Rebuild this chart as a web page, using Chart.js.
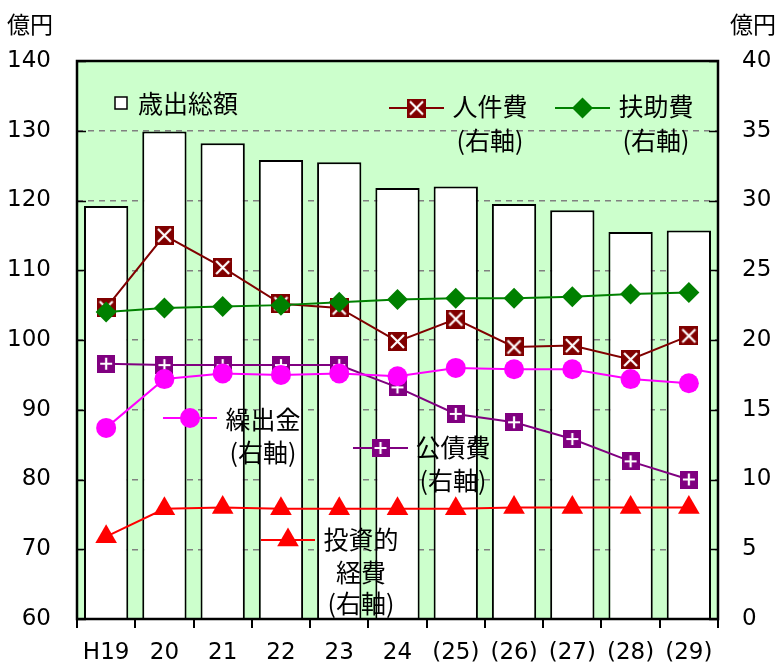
<!DOCTYPE html>
<html lang="ja">
<head>
<meta charset="utf-8">
<script src="https://cdn.jsdelivr.net/npm/chart.js@4/dist/chart.umd.min.js"></script>
<style>
  html, body { margin: 0; padding: 0; background: #ffffff; }
  #wrap { width: 782px; height: 668px; }
</style>
</head>
<body>
<div id="wrap"><canvas id="c" width="782" height="668"></canvas></div>
<script>
// 年度
const categories = ['H19', '20', '21', '22', '23', '24', '(25)', '(26)', '(27)', '(28)', '(29)'];
// 歳出総額（億円・左軸）
const totalExpenditure = [119.2, 129.9, 128.2, 125.8, 125.5, 121.8, 122.0, 119.5, 118.6, 115.5, 115.7];
// 人件費（億円・右軸）
const personnel = [22.3, 27.5, 25.2, 22.6, 22.3, 19.9, 21.5, 19.5, 19.6, 18.6, 20.3];
// 扶助費（億円・右軸）
const assistance = [22.0, 22.3, 22.4, 22.5, 22.7, 22.9, 23.0, 23.0, 23.1, 23.3, 23.4];
// 繰出金（億円・右軸）
const transfers = [13.7, 17.2, 17.6, 17.5, 17.6, 17.4, 18.0, 17.9, 17.9, 17.2, 16.9];
// 公債費（億円・右軸）
const debtService = [18.3, 18.2, 18.2, 18.2, 18.2, 16.6, 14.7, 14.1, 12.9, 11.3, 10.0];
// 投資的経費（億円・右軸）
const investment = [5.9, 7.9, 8.0, 7.9, 7.9, 7.9, 7.9, 8.0, 8.0, 8.0, 8.0];
// 軸目盛
const leftTicks = [60, 70, 80, 90, 100, 110, 120, 130, 140];
const rightTicks = [0, 5, 10, 15, 20, 25, 30, 35, 40];

const NUM_FONT = '"DejaVu Sans", sans-serif';
const JP_FONT = '"Noto Sans CJK JP", "Noto Sans", sans-serif';

const COLORS = {
  personnel: '#800000',
  assistance: '#008000',
  transfers: '#ff00ff',
  debt: '#800080',
  investment: '#ff0000'
};

// 四角に白い×のマーカー
function squareCross(size, fill) {
  const cv = document.createElement('canvas');
  cv.width = size; cv.height = size;
  const g = cv.getContext('2d');
  g.fillStyle = fill;
  g.fillRect(0, 0, size, size);
  g.strokeStyle = '#ffffff';
  g.lineWidth = 2.2;
  const m = 3;
  g.beginPath();
  g.moveTo(m, m); g.lineTo(size - m, size - m);
  g.moveTo(size - m, m); g.lineTo(m, size - m);
  g.stroke();
  return cv;
}
// 四角に白い＋のマーカー
function squarePlus(size, fill) {
  const cv = document.createElement('canvas');
  cv.width = size; cv.height = size;
  const g = cv.getContext('2d');
  g.fillStyle = fill;
  g.fillRect(0, 0, size, size);
  g.strokeStyle = '#ffffff';
  g.lineWidth = 2.2;
  const m = 3;
  g.beginPath();
  g.moveTo(size / 2, m); g.lineTo(size / 2, size - m);
  g.moveTo(m, size / 2); g.lineTo(size - m, size / 2);
  g.stroke();
  return cv;
}
const markerX = squareCross(19, COLORS.personnel);
const markerPlus = squarePlus(18, COLORS.debt);

const lineBase = {
  type: 'line',
  yAxisID: 'y1',
  borderWidth: 2,
  tension: 0,
  fill: false
};

const datasets = [
  Object.assign({}, lineBase, {
    label: '扶助費', data: assistance, order: 1,
    borderColor: COLORS.assistance, backgroundColor: COLORS.assistance,
    pointStyle: 'rectRot', pointRadius: 10.5, pointBorderWidth: 0
  }),
  Object.assign({}, lineBase, {
    label: '人件費', data: personnel, order: 2,
    borderColor: COLORS.personnel, backgroundColor: COLORS.personnel,
    pointStyle: markerX, pointRadius: 9
  }),
  Object.assign({}, lineBase, {
    label: '繰出金', data: transfers, order: 3,
    borderColor: COLORS.transfers, backgroundColor: COLORS.transfers,
    pointStyle: 'circle', pointRadius: 10, pointBorderWidth: 0
  }),
  Object.assign({}, lineBase, {
    label: '公債費', data: debtService, order: 4,
    borderColor: COLORS.debt, backgroundColor: COLORS.debt,
    pointStyle: markerPlus, pointRadius: 9
  }),
  Object.assign({}, lineBase, {
    label: '投資的経費', data: investment, order: 5,
    borderColor: COLORS.investment, backgroundColor: COLORS.investment,
    pointStyle: 'triangle', pointRadius: 12.5, pointBorderWidth: 0
  }),
  {
    type: 'bar', label: '歳出総額', data: totalExpenditure, yAxisID: 'y', order: 10,
    backgroundColor: '#ffffff', borderColor: '#000000', borderWidth: 2,
    barPercentage: 0.76, categoryPercentage: 1.0
  }
];

// 描画領域の背景・枠・内向き目盛
const frame = {
  id: 'frame',
  beforeDraw(chart) {
    const { ctx, chartArea: a } = chart;
    ctx.save();
    ctx.fillStyle = '#ccffcc';
    ctx.fillRect(a.left, a.top, a.right - a.left, a.bottom - a.top);
    ctx.restore();
  },
  afterDraw(chart) {
    const { ctx, chartArea: a, scales } = chart;
    ctx.save();
    ctx.strokeStyle = '#000000';
    ctx.lineWidth = 1.5;
    ctx.beginPath();
    leftTicks.forEach(v => {
      const y = Math.round(scales.y.getPixelForValue(v)) + 0.5;
      ctx.moveTo(a.left, y); ctx.lineTo(a.left + 9, y);
    });
    rightTicks.forEach(v => {
      const y = Math.round(scales.y1.getPixelForValue(v)) + 0.5;
      ctx.moveTo(a.right - 9, y); ctx.lineTo(a.right, y);
    });
    ctx.stroke();
    ctx.lineWidth = 2.5;
    ctx.strokeRect(a.left, a.top, a.right - a.left, a.bottom - a.top);
    ctx.restore();
  }
};

// 凡例と単位
const notes = {
  id: 'notes',
  afterDraw(chart) {
    const { ctx } = chart;
    const H = Chart.helpers;
    ctx.save();
    ctx.fillStyle = '#000000';
    ctx.textBaseline = 'middle';

    ctx.font = '23px ' + JP_FONT;
    ctx.textAlign = 'center';
    ctx.fillText('億円', 30, 24);
    ctx.fillText('億円', 753, 24);

    const sample = (x1, x2, y, color, style, radius) => {
      ctx.strokeStyle = color;
      ctx.lineWidth = 2;
      ctx.beginPath();
      ctx.moveTo(x1, y); ctx.lineTo(x2, y);
      ctx.stroke();
      ctx.fillStyle = color;
      H.drawPoint(ctx, { pointStyle: style, radius: radius, borderWidth: 0, rotation: 0 }, (x1 + x2) / 2, y);
      ctx.fillStyle = '#000000';
    };
    const lines = (cx, ys, texts) => {
      ctx.font = '25px ' + JP_FONT;
      ctx.textAlign = 'center';
      texts.forEach((t, i) => ctx.fillText(t, cx, ys[i]));
    };

    // 歳出総額
    ctx.fillStyle = '#ffffff';
    ctx.fillRect(115, 97, 12, 12);
    ctx.strokeStyle = '#000000';
    ctx.lineWidth = 1.5;
    ctx.strokeRect(115, 97, 12, 12);
    ctx.fillStyle = '#000000';
    ctx.font = '25px ' + JP_FONT;
    ctx.textAlign = 'left';
    ctx.fillText('歳出総額', 138, 103);

    sample(389, 444, 108, COLORS.personnel, markerX, 9);
    lines(490, [106, 140], ['人件費', '(右軸)']);

    sample(555, 610, 108, COLORS.assistance, 'rectRot', 10.5);
    lines(656, [106, 140], ['扶助費', '(右軸)']);

    sample(163, 217, 418, COLORS.transfers, 'circle', 10);
    lines(263, [419, 452], ['繰出金', '(右軸)']);

    sample(353, 408, 448, COLORS.debt, markerPlus, 9);
    lines(453, [447, 480], ['公債費', '(右軸)']);

    sample(261, 315, 540, COLORS.investment, 'triangle', 12.5);
    lines(361, [539, 572, 603], ['投資的', '経費', '(右軸)']);

    ctx.restore();
  }
};

new Chart(document.getElementById('c'), {
  data: { labels: categories, datasets: datasets },
  plugins: [frame, notes],
  options: {
    responsive: false,
    animation: false,
    layout: { padding: { top: 61, left: 0, right: 0, bottom: 0 } },
    plugins: { legend: { display: false }, tooltip: { enabled: false } },
    scales: {
      x: {
        offset: true,
        grid: {
          offset: true, drawOnChartArea: false, drawTicks: true,
          tickLength: 9, color: '#000000', lineWidth: 2
        },
        border: { display: false },
        ticks: {
          color: '#000000', padding: 11, maxRotation: 0, autoSkip: false,
          font: { family: NUM_FONT, size: 23 }
        },
        afterFit(s) { s.height = 49; }
      },
      y: {
        position: 'left',
        min: 60, max: 140,
        afterBuildTicks(s) { s.ticks = leftTicks.map(v => ({ value: v })); },
        grid: { drawTicks: false, color: '#808080', lineWidth: 1.5 },
        border: { display: false, dash: [6, 5] },
        ticks: {
          color: '#000000', padding: 26,
          font: { family: NUM_FONT, size: 23 }
        },
        afterFit(s) { s.width = 77; }
      },
      y1: {
        position: 'right',
        min: 0, max: 40,
        afterBuildTicks(s) { s.ticks = rightTicks.map(v => ({ value: v })); },
        grid: { drawOnChartArea: false, drawTicks: false },
        border: { display: false },
        ticks: {
          color: '#000000', padding: 24,
          font: { family: NUM_FONT, size: 23 }
        },
        afterFit(s) { s.width = 64; }
      }
    }
  }
});
</script>
</body>
</html>
